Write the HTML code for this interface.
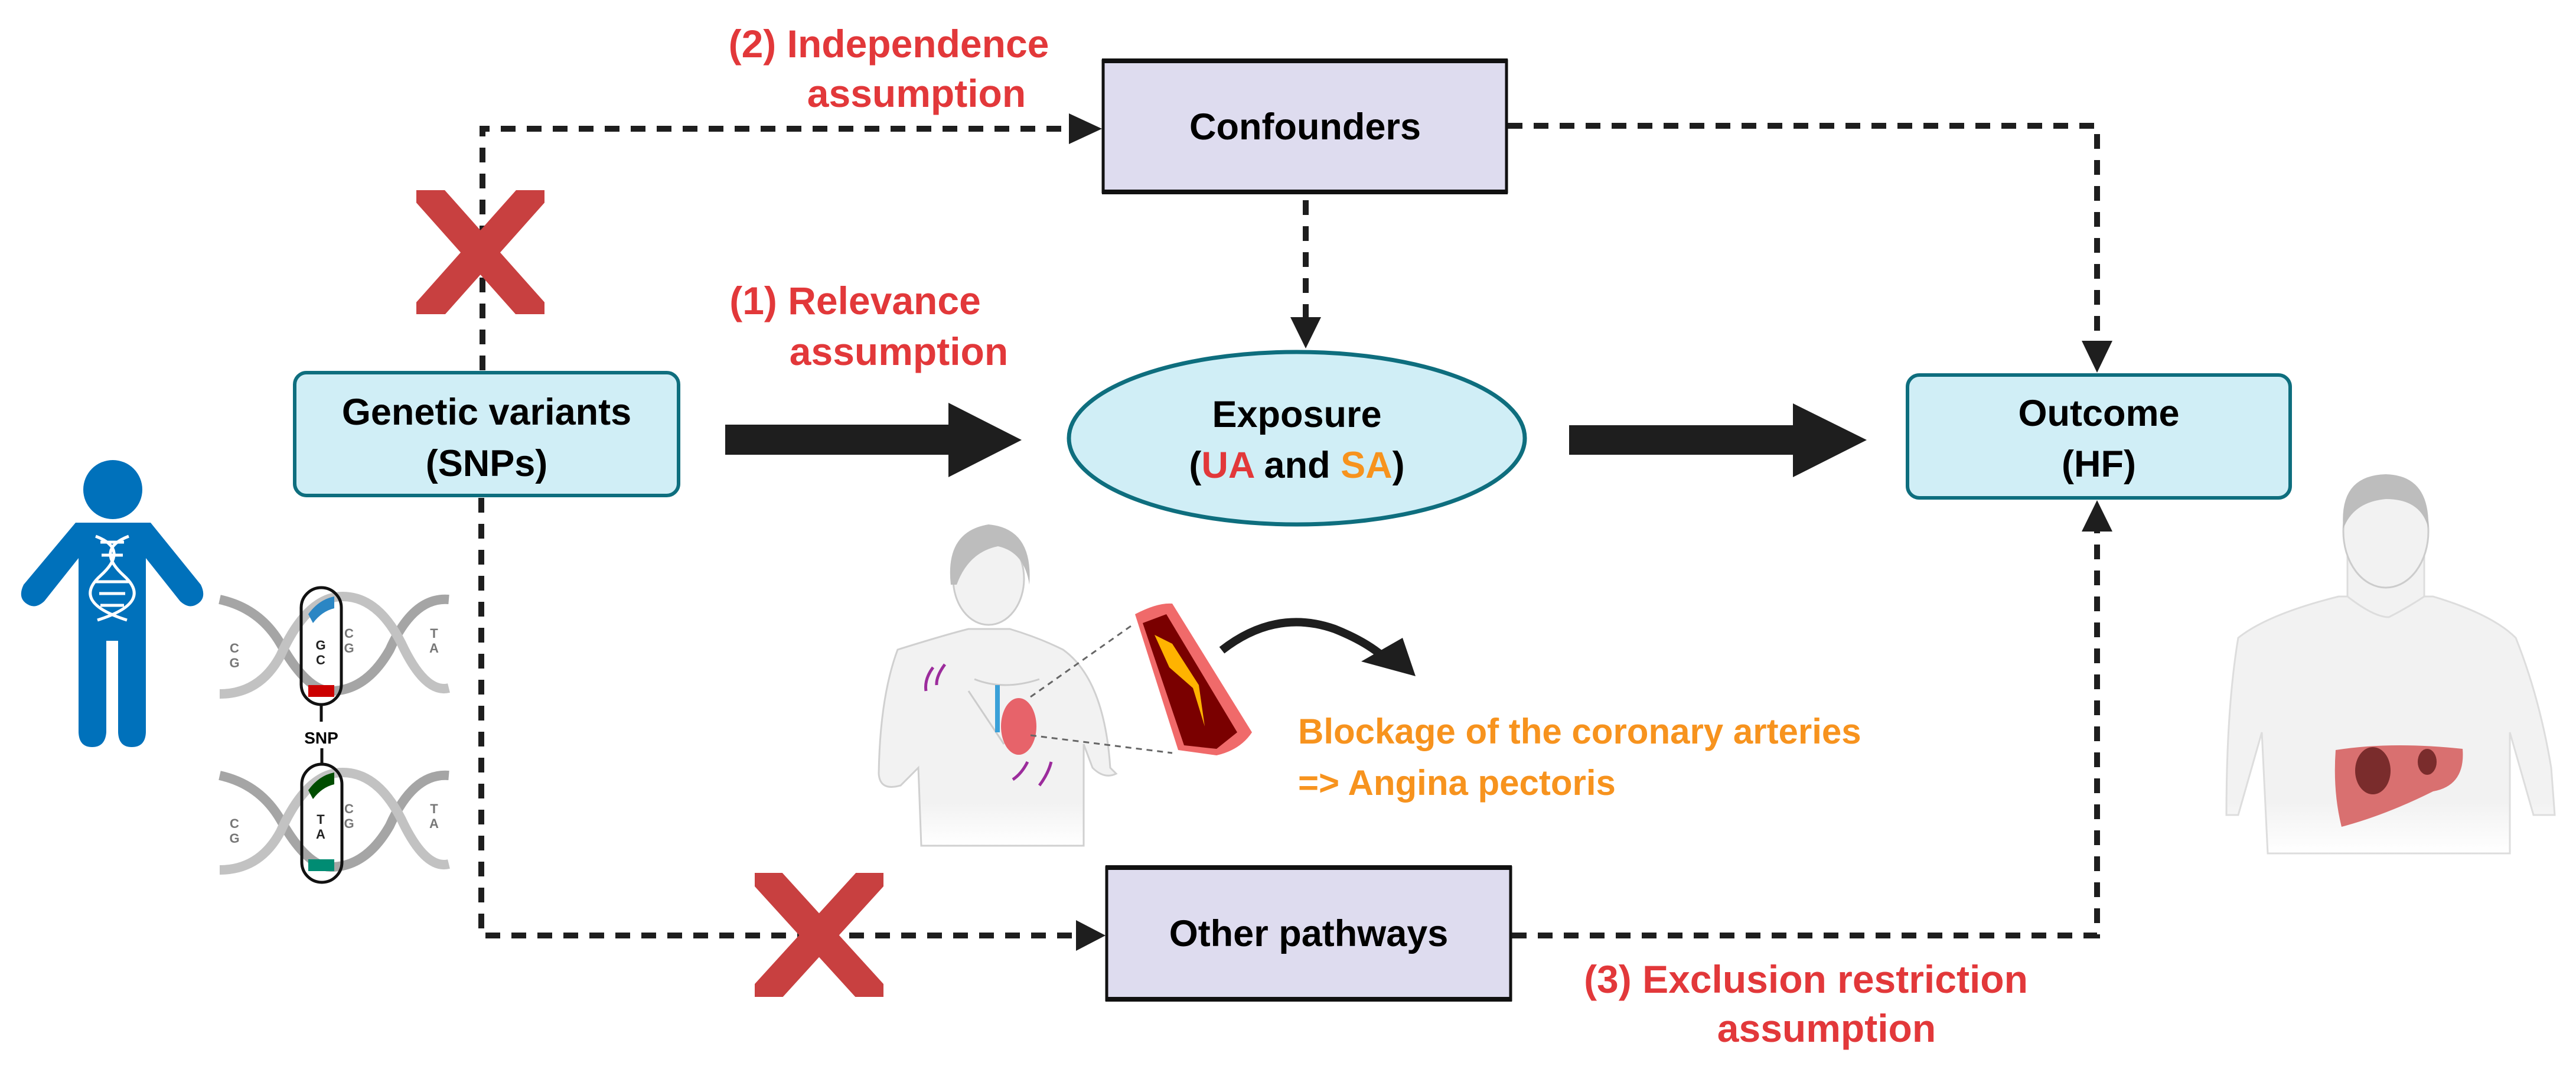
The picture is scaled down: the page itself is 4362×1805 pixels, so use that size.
<!DOCTYPE html>
<html><head><meta charset="utf-8"><style>
html,body{margin:0;padding:0;background:#fff;}
svg{display:block;}
text{font-family:"Liberation Sans",Arial,sans-serif;font-weight:bold;}
</style></head><body>
<svg width="4362" height="1805" viewBox="0 0 4362 1805" xmlns="http://www.w3.org/2000/svg">
<defs>
<linearGradient id="fade" x1="0" y1="0" x2="0" y2="1"><stop offset="0.8" stop-color="#f2f2f2"/><stop offset="1" stop-color="#fff"/></linearGradient>
<clipPath id="c1"><rect x="705" y="322" width="217" height="210"/></clipPath>
<clipPath id="c2"><rect x="1278" y="1478" width="218" height="210"/></clipPath>
</defs>
<g stroke="#1e1e1e" stroke-width="10" fill="none" stroke-dasharray="25 19">
<path d="M817 627 V218 H1812"/>
<path d="M2553 213 H3551 V580"/>
<path d="M2211 339 V540"/>
<path d="M815 843 V1584 H1825"/>
<path d="M2560 1584 H3551 V900"/>
</g>
<g fill="#1e1e1e">
<polygon points="1866,218 1810,192 1810,244"/>
<polygon points="3551,631 3525,577 3577,577"/>
<polygon points="2211,590 2185,537 2237,537"/>
<polygon points="1872,1584 1822,1558 1822,1610"/>
<polygon points="3551,847 3525,900 3577,900"/>
<polygon points="1228,719 1606,719 1606,682 1730,745 1606,808 1606,770 1228,770"/>
<polygon points="2657,720 3036,720 3036,683 3161,745 3036,808 3036,770 2657,770"/>
</g>
<g stroke="#c84040" stroke-width="50" clip-path="url(#c1)">
<line x1="700" y1="300" x2="927" y2="555"/><line x1="927" y1="300" x2="700" y2="555"/>
</g>
<g stroke="#c84040" stroke-width="50" clip-path="url(#c2)">
<line x1="1270" y1="1455" x2="1504" y2="1712"/><line x1="1504" y1="1455" x2="1270" y2="1712"/>
</g>
<rect x="1868" y="103" width="683" height="222" fill="#dedcef" stroke="#111" stroke-width="5"/>
<rect x="1866" y="99" width="687" height="8" fill="#111"/><rect x="1866" y="321" width="687" height="8" fill="#111"/>
<text x="2210" y="236" font-size="63" text-anchor="middle">Confounders</text>

<rect x="1874" y="1469" width="684" height="224" fill="#dedcef" stroke="#111" stroke-width="5"/>
<rect x="1872" y="1465" width="688" height="8" fill="#111"/><rect x="1872" y="1688" width="688" height="8" fill="#111"/>
<text x="2216" y="1602" font-size="63" text-anchor="middle">Other pathways</text>

<rect x="499" y="631" width="650" height="208" rx="20" fill="#d0eef6" stroke="#0e6e7e" stroke-width="6"/>
<text x="824" y="719" font-size="63" text-anchor="middle">Genetic variants</text>
<text x="824" y="806" font-size="63" text-anchor="middle">(SNPs)</text>

<ellipse cx="2196" cy="742" rx="386" ry="146" fill="#d0eef6" stroke="#0e6e7e" stroke-width="7"/>
<text x="2196" y="723" font-size="63" text-anchor="middle">Exposure</text>
<text x="2196" y="809" font-size="63" text-anchor="middle">(<tspan fill="#e2383a">UA</tspan> and <tspan fill="#f7931e">SA</tspan>)</text>

<rect x="3230" y="635" width="648" height="208" rx="20" fill="#d0eef6" stroke="#0e6e7e" stroke-width="6"/>
<text x="3554" y="721" font-size="63" text-anchor="middle">Outcome</text>
<text x="3554" y="807" font-size="63" text-anchor="middle">(HF)</text>

<g fill="#e2383a" font-size="66" text-anchor="middle">
<text x="1505" y="97">(2) Independence</text>
<text x="1552" y="181">assumption</text>
<text x="1448" y="532">(1) Relevance</text>
<text x="1522" y="618">assumption</text>
<text x="3058" y="1681">(3) Exclusion restriction</text>
<text x="3093" y="1764">assumption</text>
</g>
<g fill="#f7931e" font-size="60">
<text x="2198" y="1259">Blockage of the coronary arteries</text>
<text x="2198" y="1346">=&gt; Angina pectoris</text>
</g>

<g fill="#0071bb">
<circle cx="191" cy="829" r="50"/>
<path d="M128 885 H255 L340 990 Q352 1015 330 1025 Q318 1030 305 1018 L247 945 V1240 Q246 1265 223 1265 Q201 1265 200 1240 V1085 H180 V1240 Q178 1265 156 1265 Q134 1265 133 1240 V945 L75 1018 Q62 1030 50 1025 Q28 1015 40 990 Z"/>
</g>
<g stroke="#fff" stroke-width="5" fill="none">
<path d="M162 908 Q220 930 170 975 Q120 1020 215 1050"/>
<path d="M218 908 Q160 930 210 975 Q260 1020 165 1050"/>
<path d="M170 918 H210 M172 940 H208 M162 985 H218 M168 1005 H212 M170 1025 H210"/>
</g>

<g fill="none" stroke-width="16">
<path d="M372 1015 Q440 1030 475 1090 Q520 1170 560 1170 Q620 1170 660 1100 Q700 1010 760 1015" stroke="#a5a5a5"/>
<path d="M372 1175 Q440 1175 475 1110 Q520 1010 580 1010 Q640 1010 680 1090 Q720 1175 760 1165" stroke="#c2c2c2"/>
<path d="M372 1313 Q440 1328 475 1388 Q520 1468 560 1468 Q620 1468 660 1398 Q700 1308 760 1313" stroke="#a5a5a5"/>
<path d="M372 1473 Q440 1473 475 1408 Q520 1308 580 1308 Q640 1308 680 1388 Q720 1473 760 1463" stroke="#c2c2c2"/>
</g>
<rect x="522" y="1160" width="44" height="20" fill="#c00"/>
<path d="M522 1040 Q540 1015 566 1010 V1030 Q545 1035 530 1055 Z" fill="#2b86c4"/>
<rect x="522" y="1455" width="44" height="20" fill="#008c73"/>
<path d="M522 1338 Q540 1313 566 1308 V1328 Q545 1333 530 1353 Z" fill="#004d00"/>
<g fill="none" stroke="#111" stroke-width="5">
<rect x="510" y="995" width="68" height="198" rx="34"/>
<rect x="511" y="1294" width="68" height="200" rx="34"/>
<line x1="544" y1="1193" x2="544" y2="1222"/><line x1="545" y1="1267" x2="545" y2="1294"/>
</g>
<text x="544" y="1259" font-size="28" text-anchor="middle">SNP</text>
<g font-size="22" fill="#777" font-weight="normal" text-anchor="middle">
<text x="397" y="1105">C</text><text x="397" y="1130">G</text>
<text x="591" y="1080">C</text><text x="591" y="1105">G</text>
<text x="735" y="1080">T</text><text x="735" y="1105">A</text>
<text x="543" y="1100" fill="#222">G</text><text x="543" y="1125" fill="#222">C</text>
<text x="397" y="1402">C</text><text x="397" y="1427">G</text>
<text x="591" y="1377">C</text><text x="591" y="1402">G</text>
<text x="735" y="1377">T</text><text x="735" y="1402">A</text>
<text x="543" y="1395" fill="#222">T</text><text x="543" y="1420" fill="#222">A</text>
</g>

<g>
<path d="M1520 1100 Q1600 1075 1640 1065 H1710 Q1760 1080 1800 1100 Q1870 1150 1880 1300 L1890 1310 Q1870 1320 1850 1300 L1835 1260 V1432 H1560 L1555 1300 L1525 1330 Q1490 1340 1488 1310 Q1490 1180 1520 1100 Z" fill="url(#fade)" stroke="#d0d0d0" stroke-width="3"/>
<ellipse cx="1674" cy="980" rx="60" ry="78" fill="#f2f2f2" stroke="#ccc" stroke-width="3"/>
<path d="M1610 990 Q1600 900 1674 888 Q1750 895 1743 990 Q1735 935 1690 925 Q1640 935 1620 990 Z" fill="#bdbdbd"/>
<path d="M1650 1150 Q1700 1170 1760 1150 M1640 1170 L1700 1260" stroke="#ccc" stroke-width="3" fill="none"/>
<ellipse cx="1725" cy="1230" rx="30" ry="48" fill="#e7636a"/>
<rect x="1685" y="1160" width="8" height="80" fill="#3aa0d8"/>
<path d="M1580 1130 Q1565 1150 1568 1170 M1600 1125 Q1585 1145 1586 1160" stroke="#9c2c9c" stroke-width="5" fill="none"/>
<path d="M1740 1290 Q1730 1310 1715 1320 M1780 1290 Q1775 1310 1760 1330" stroke="#9c2c9c" stroke-width="5" fill="none"/>
<path d="M1745 1180 L1915 1060 M1745 1245 L1985 1275" stroke="#666" stroke-width="3" stroke-dasharray="10 8"/>
</g>
<path d="M1922 1040 Q1960 1020 1985 1022 L2120 1240 Q2100 1270 2060 1279 L1995 1270 Z" fill="#f06a6a"/>
<path d="M1935 1055 L1975 1040 L2095 1240 L2060 1268 L2005 1262 Z" fill="#7a0000"/>
<path d="M1955 1075 L1980 1130 L2020 1165 L2040 1230 L2030 1160 L1985 1090 Z" fill="#ffb300"/>
<path d="M2069 1101 Q2160 1030 2260 1065 Q2310 1085 2340 1110" stroke="#1e1e1e" stroke-width="14" fill="none"/>
<polygon points="2397,1145 2305,1120 2375,1080" fill="#1e1e1e"/>

<g>
<path d="M3790 1080 Q3840 1040 3960 1010 H4120 Q4220 1040 4260 1080 Q4300 1180 4320 1300 L4326 1380 H4290 L4250 1240 V1445 H3840 L3830 1240 L3790 1380 H3770 Q3770 1200 3790 1080 Z" fill="url(#fade)" stroke="#ddd" stroke-width="3"/>
<path d="M3975 930 V1010 Q4020 1045 4045 1045 Q4075 1030 4105 1010 V930 Z" fill="#f2f2f2" stroke="#ddd" stroke-width="3"/>
<ellipse cx="4040" cy="900" rx="72" ry="95" fill="#f2f2f2" stroke="#ccc" stroke-width="3"/>
<path d="M3968 895 Q3960 805 4040 803 Q4115 805 4112 895 Q4100 845 4040 845 Q3985 850 3968 895 Z" fill="#bdbdbd"/>
<path d="M3955 1270 Q4050 1255 4170 1268 Q4175 1330 4120 1340 Q4040 1380 3965 1400 Q3950 1340 3955 1270 Z" fill="#d97070"/>
<ellipse cx="4018" cy="1305" rx="30" ry="40" fill="#7a2c2c"/>
<ellipse cx="4110" cy="1290" rx="16" ry="22" fill="#7a2c2c"/>
</g>
</svg>
</body></html>
